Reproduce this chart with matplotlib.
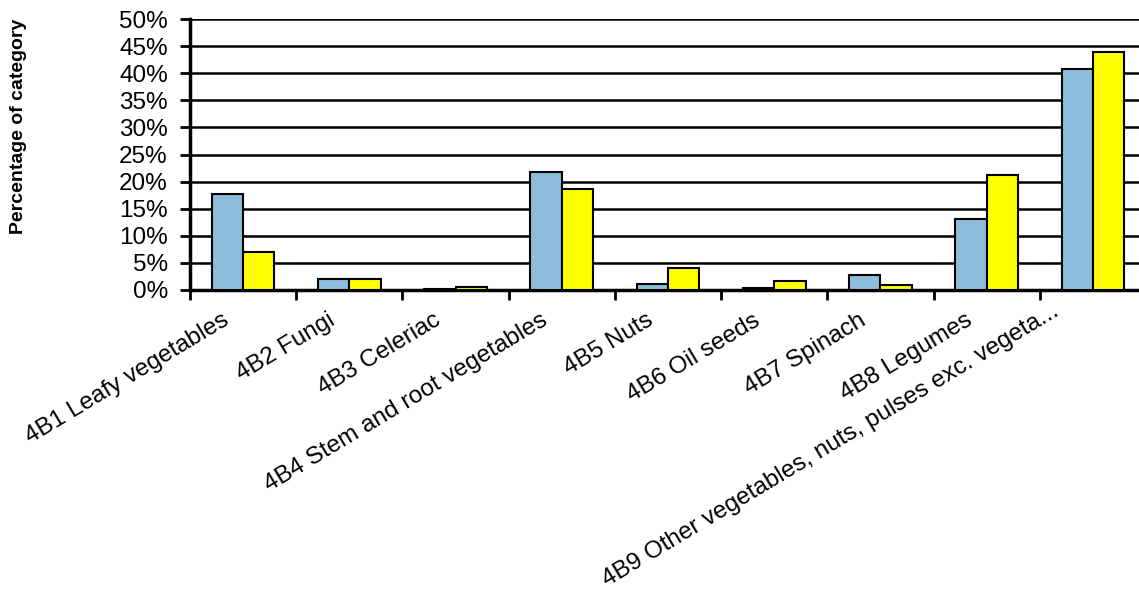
import numpy as np
import matplotlib.pyplot as plt
from matplotlib.transforms import ScaledTranslation

plt.rcParams['font.family'] = ['Liberation Sans', 'DejaVu Sans']

# Data
categories = ["4B1 Leafy vegetables", "4B2 Fungi", "4B3 Celeriac",
              "4B4 Stem and root vegetables", "4B5 Nuts", "4B6 Oil seeds",
              "4B7 Spinach", "4B8 Legumes",
              "4B9 Other vegetables, nuts, pulses exc. vegeta..."]
series_blue = [17.8, 2.0, 0.2, 21.8, 1.1, 0.4, 2.8, 13.1, 40.8]
series_yellow = [7.0, 2.0, 0.6, 18.6, 4.0, 1.7, 1.0, 21.3, 44.0]
yticks = list(range(0, 55, 5))

fig = plt.figure(figsize=(11.39, 5.92), dpi=100)
# axes runs a bit past the right edge, as in the reference
ax = fig.add_axes([190 / 1139, 1 - 290 / 592, 956 / 1139, 271 / 592])

x = np.arange(len(categories))
w = 0.295
ax.bar(x - w / 2, series_blue, w, color='#8DBDDA', edgecolor='black', lw=1.5, zorder=3)
ax.bar(x + w / 2, series_yellow, w, color='#FFFF00', edgecolor='black', lw=1.5, zorder=3)

ax.set_xlim(-0.5, len(categories) - 0.5)
ax.set_ylim(0, 50)
ax.set_yticks(yticks)
ax.set_yticklabels([f"{v}%" for v in yticks], fontsize=17.5)
ax.yaxis.grid(True, color='black', lw=1.8, zorder=0)
ax.set_axisbelow(True)

ax.set_xticks(x)
ax.set_xticklabels(categories, rotation=31, ha='right', rotation_mode='anchor', fontsize=17.5)
ax.set_xticks(np.arange(-0.5, len(categories)), minor=True)
ax.tick_params(axis='x', which='major', length=0, pad=14)
ax.tick_params(axis='x', which='minor', length=7, width=2, direction='out')
ax.tick_params(axis='y', length=7, width=2, direction='out', pad=9)

# nudge category labels left of the bar centre like the original
for i, lab in enumerate(ax.get_xticklabels()):
    if i == len(categories) - 1:
        dx, dy = -42, 9
    else:
        dx, dy = -22, 0
    lab.set_transform(lab.get_transform() +
                      ScaledTranslation(dx / 100, dy / 100, fig.dpi_scale_trans))

for side in ['top', 'right']:
    ax.spines[side].set_visible(False)
for side in ['left', 'bottom']:
    ax.spines[side].set_linewidth(2.5)

fig.text(19 / 1139, 1 - 126 / 592, "Percentage of category", rotation=90,
         fontsize=14, fontweight='bold', ha='center', va='center')

fig.savefig("out.png", dpi=100)
